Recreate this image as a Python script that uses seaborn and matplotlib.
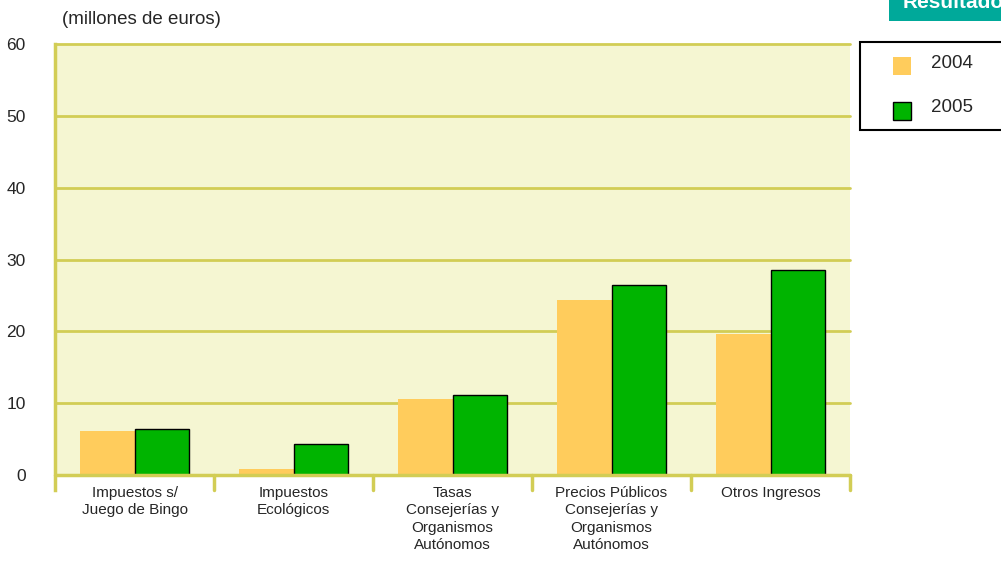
import pandas as pd
import seaborn as sns
import matplotlib.pyplot as plt
from matplotlib.patches import Rectangle

categories = ["Impuestos s/\nJuego de Bingo", "Impuestos\nEcológicos",
              "Tasas\nConsejerías y\nOrganismos\nAutónomos",
              "Precios Públicos\nConsejerías y\nOrganismos\nAutónomos",
              "Otros Ingresos"]
values_2004 = [6.1, 0.8, 10.6, 24.4, 19.6]
values_2005 = [6.4, 4.3, 11.1, 26.5, 28.5]
years = ["2004", "2005"]
yticks = [0, 10, 20, 30, 40, 50, 60]

df = pd.DataFrame({
    "cat": categories * 2,
    "year": [years[0]] * 5 + [years[1]] * 5,
    "val": values_2004 + values_2005,
})

sns.set_style("white")
plt.rcParams["font.family"] = ["Liberation Sans", "DejaVu Sans"]

grid_c = "#D2CD55"
bg_c = "#F5F6D2"
col_2004 = "#FFCC5C"
col_2005 = "#00B400"

fig = plt.figure(figsize=(10.01, 5.65), dpi=100)
ax = fig.add_axes([55 / 1001, 90 / 565, 795 / 1001, 431 / 565])
ax.set_facecolor(bg_c)

sns.barplot(data=df, x="cat", y="val", hue="year", palette=[col_2004, col_2005],
            width=0.68, gap=0, saturation=1, ax=ax, legend=False, zorder=3)

# black edge on the 2005 bars only
for bar in ax.containers[1]:
    bar.set_edgecolor("black")
    bar.set_linewidth(1)
for bar in ax.containers[0]:
    bar.set_linewidth(0)

ax.set_ylim(0, 60)
ax.set_xlim(-0.5, 4.5)
ax.set_yticks(yticks)
ax.set_yticklabels([str(t) for t in yticks], fontsize=12.5)
for y in yticks[1:]:
    ax.axhline(y, color=grid_c, lw=2, zorder=1, clip_on=False)
ax.axhline(0, color=grid_c, lw=2.5, zorder=4, clip_on=False)

for s in ["top", "right", "bottom"]:
    ax.spines[s].set_visible(False)
ax.spines["left"].set_color(grid_c)
ax.spines["left"].set_linewidth(2.5)
ax.spines["left"].set_bounds(-2.1, 60)

ax.tick_params(axis="y", length=15, width=2, color=grid_c, pad=6)
ax.tick_params(axis="x", length=0, pad=8)
ax.set_xticks(range(5))
ax.set_xticklabels(categories, fontsize=11, linespacing=1.3)
# separator ticks between categories
for x in [0.5, 1.5, 2.5, 3.5, 4.5]:
    ax.plot([x, x], [0, -2.1], color=grid_c, lw=2.5, clip_on=False, zorder=4)
ax.set_xlabel("")
ax.set_ylabel("")

fig.text(62 / 1001, 1 - 20 / 565, "(millones de euros)", fontsize=13.5, va="center", ha="left")

# legend box
fig.patches.append(Rectangle((860 / 1001, 1 - 130 / 565), 145 / 1001, 88 / 565,
                             transform=fig.transFigure, facecolor="white",
                             edgecolor="black", lw=1.5))
fig.patches.append(Rectangle((893 / 1001, 1 - 75 / 565), 18 / 1001, 18 / 565,
                             transform=fig.transFigure, facecolor=col_2004, edgecolor="none"))
fig.patches.append(Rectangle((893 / 1001, 1 - 120 / 565), 18 / 1001, 18 / 565,
                             transform=fig.transFigure, facecolor=col_2005, edgecolor="black", lw=1))
fig.text(931 / 1001, 1 - 63 / 565, years[0], fontsize=13.5, va="center")
fig.text(931 / 1001, 1 - 108 / 565, years[1], fontsize=13.5, va="center")

# teal header tab (cut off at the edge, as in the source page)
fig.patches.append(Rectangle((889 / 1001, 1 - 21 / 565), 120 / 1001, 30 / 565,
                             transform=fig.transFigure, facecolor="#00A99A", edgecolor="none"))
fig.text(903 / 1001, 1 - 3 / 565, "Resultados", fontsize=15, fontweight="bold",
         color="white", va="center", ha="left")

fig.savefig("out.png", dpi=100)
